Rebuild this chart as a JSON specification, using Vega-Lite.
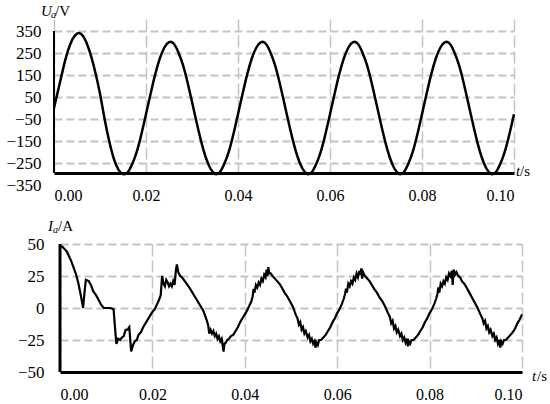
{
  "$schema": "https://vega.github.io/schema/vega-lite/v6.json",
  "padding": {"left": 5, "top": 3, "right": 0, "bottom": 0},
  "spacing": 15,
  "config": {
    "view": {"stroke": null},
    "font": "Liberation Serif",
    "style": {"guide-label": {"font": "Liberation Serif"}},
    "axis": {
      "labelFont": "Liberation Serif",
      "labelFontSize": 16,
      "labelColor": "#000",
      "ticks": false,
      "domainColor": "#000",
      "gridColor": "#c4c4c4",
      "gridWidth": 2,
      "title": null
    }
  },
  "datasets": {
    "one": [{"k": 1}],
    "voltage": [
      {"t":0.000,"v":0},{"t":0.001,"v":90},{"t":0.002,"v":180},{"t":0.003,"v":258},{"t":0.004,"v":312},{"t":0.005,"v":338},{"t":0.006,"v":335},{"t":0.007,"v":300},{"t":0.008,"v":240},{"t":0.009,"v":160},
      {"t":0.010,"v":65},{"t":0.011,"v":-50},{"t":0.012,"v":-150},{"t":0.013,"v":-230},{"t":0.014,"v":-280},{"t":0.015,"v":-300},{"t":0.016,"v":-293},{"t":0.017,"v":-255},{"t":0.018,"v":-198},{"t":0.019,"v":-119},
      {"t":0.020,"v":-28},{"t":0.021,"v":65},{"t":0.022,"v":153},{"t":0.023,"v":225},{"t":0.024,"v":275},{"t":0.025,"v":299},{"t":0.026,"v":293},{"t":0.027,"v":255},{"t":0.028,"v":198},{"t":0.029,"v":119},
      {"t":0.030,"v":28},{"t":0.031,"v":-65},{"t":0.032,"v":-153},{"t":0.033,"v":-225},{"t":0.034,"v":-275},{"t":0.035,"v":-299},{"t":0.036,"v":-293},{"t":0.037,"v":-255},{"t":0.038,"v":-198},{"t":0.039,"v":-119},
      {"t":0.040,"v":-28},{"t":0.041,"v":65},{"t":0.042,"v":153},{"t":0.043,"v":225},{"t":0.044,"v":275},{"t":0.045,"v":299},{"t":0.046,"v":293},{"t":0.047,"v":255},{"t":0.048,"v":198},{"t":0.049,"v":119},
      {"t":0.050,"v":28},{"t":0.051,"v":-65},{"t":0.052,"v":-153},{"t":0.053,"v":-225},{"t":0.054,"v":-275},{"t":0.055,"v":-299},{"t":0.056,"v":-293},{"t":0.057,"v":-255},{"t":0.058,"v":-198},{"t":0.059,"v":-119},
      {"t":0.060,"v":-28},{"t":0.061,"v":65},{"t":0.062,"v":153},{"t":0.063,"v":225},{"t":0.064,"v":275},{"t":0.065,"v":299},{"t":0.066,"v":293},{"t":0.067,"v":255},{"t":0.068,"v":198},{"t":0.069,"v":119},
      {"t":0.070,"v":28},{"t":0.071,"v":-65},{"t":0.072,"v":-153},{"t":0.073,"v":-225},{"t":0.074,"v":-275},{"t":0.075,"v":-299},{"t":0.076,"v":-293},{"t":0.077,"v":-255},{"t":0.078,"v":-198},{"t":0.079,"v":-119},
      {"t":0.080,"v":-28},{"t":0.081,"v":65},{"t":0.082,"v":153},{"t":0.083,"v":225},{"t":0.084,"v":275},{"t":0.085,"v":299},{"t":0.086,"v":293},{"t":0.087,"v":255},{"t":0.088,"v":198},{"t":0.089,"v":119},
      {"t":0.090,"v":28},{"t":0.091,"v":-65},{"t":0.092,"v":-153},{"t":0.093,"v":-225},{"t":0.094,"v":-275},{"t":0.095,"v":-299},{"t":0.096,"v":-293},{"t":0.097,"v":-255},{"t":0.098,"v":-198},{"t":0.099,"v":-119},
      {"t":0.100,"v":-28}
    ],
    "current": [
      {"t":0.0000,"i":48},{"t":0.0005,"i":48},{"t":0.0010,"i":46},{"t":0.0015,"i":44},{"t":0.0020,"i":40},{"t":0.0025,"i":36},{"t":0.0030,"i":31},{"t":0.0035,"i":26},{"t":0.0040,"i":19},{"t":0.0045,"i":10},
      {"t":0.0050,"i":0},{"t":0.0053,"i":12},{"t":0.0056,"i":22},{"t":0.0062,"i":21},{"t":0.0067,"i":18},{"t":0.0072,"i":13},{"t":0.0078,"i":10},{"t":0.0084,"i":6},{"t":0.0090,"i":2},{"t":0.0095,"i":0},
      {"t":0.0100,"i":0},{"t":0.0110,"i":0},{"t":0.0116,"i":-1},{"t":0.0119,"i":-15},{"t":0.0122,"i":-28},{"t":0.0126,"i":-24},{"t":0.0130,"i":-25},{"t":0.0134,"i":-23},{"t":0.0138,"i":-22},{"t":0.0142,"i":-17},
      {"t":0.0146,"i":-17},{"t":0.0150,"i":-15},{"t":0.0154,"i":-34},{"t":0.0158,"i":-29},{"t":0.0162,"i":-26},{"t":0.0166,"i":-25},{"t":0.0170,"i":-21},{"t":0.0175,"i":-19},{"t":0.0180,"i":-15},{"t":0.0185,"i":-12},
      {"t":0.0190,"i":-9},{"t":0.0195,"i":-6},{"t":0.0200,"i":-3},{"t":0.0205,"i":-1},{"t":0.0210,"i":3},{"t":0.0214,"i":6},{"t":0.0218,"i":10},{"t":0.0221,"i":25},{"t":0.0224,"i":19},{"t":0.0227,"i":17},
      {"t":0.0230,"i":22},{"t":0.0233,"i":20},{"t":0.0236,"i":17},{"t":0.0239,"i":19},{"t":0.0242,"i":17},{"t":0.0245,"i":21},{"t":0.0248,"i":18},{"t":0.0251,"i":30},{"t":0.0253,"i":34},{"t":0.0256,"i":28},
      {"t":0.0260,"i":25},{"t":0.0264,"i":24},{"t":0.0268,"i":22},{"t":0.0272,"i":20},{"t":0.0276,"i":18},{"t":0.0280,"i":16},{"t":0.0285,"i":13},{"t":0.0290,"i":10},{"t":0.0295,"i":7},{"t":0.0300,"i":4},
      {"t":0.0305,"i":1},{"t":0.0310,"i":-2},{"t":0.0314,"i":-6},{"t":0.0318,"i":-10},{"t":0.0321,"i":-14},{"t":0.0323,"i":-20},{"t":0.0326,"i":-17},{"t":0.0329,"i":-20},{"t":0.0332,"i":-18},{"t":0.0335,"i":-22},
      {"t":0.0338,"i":-20},{"t":0.0341,"i":-24},{"t":0.0344,"i":-22},{"t":0.0347,"i":-26},{"t":0.0350,"i":-24},{"t":0.0352,"i":-29},{"t":0.0354,"i":-34},{"t":0.0356,"i":-28},{"t":0.0359,"i":-27},{"t":0.0362,"i":-25},
      {"t":0.0366,"i":-24},{"t":0.0370,"i":-22},{"t":0.0375,"i":-21},{"t":0.0380,"i":-18},{"t":0.0385,"i":-15},{"t":0.0390,"i":-11},{"t":0.0395,"i":-8},{"t":0.0400,"i":-5},{"t":0.0405,"i":-2},{"t":0.0410,"i":2},
      {"t":0.0414,"i":5},{"t":0.0417,"i":9},{"t":0.0419,"i":15},{"t":0.0421,"i":12},{"t":0.0424,"i":18},{"t":0.0427,"i":16},{"t":0.0430,"i":20},{"t":0.0433,"i":18},{"t":0.0436,"i":23},{"t":0.0439,"i":21},
      {"t":0.0442,"i":26},{"t":0.0445,"i":24},{"t":0.0447,"i":30},{"t":0.0449,"i":25},{"t":0.0451,"i":32},{"t":0.0453,"i":27},{"t":0.0456,"i":27},{"t":0.0460,"i":25},{"t":0.0465,"i":23},{"t":0.0470,"i":21},
      {"t":0.0475,"i":19},{"t":0.0480,"i":16},{"t":0.0486,"i":12},{"t":0.0492,"i":9},{"t":0.0498,"i":5},{"t":0.0504,"i":1},{"t":0.0510,"i":-5},{"t":0.0514,"i":-8},{"t":0.0517,"i":-13},{"t":0.0520,"i":-11},
      {"t":0.0523,"i":-17},{"t":0.0526,"i":-15},{"t":0.0529,"i":-20},{"t":0.0532,"i":-18},{"t":0.0536,"i":-23},{"t":0.0539,"i":-21},{"t":0.0542,"i":-26},{"t":0.0545,"i":-24},{"t":0.0548,"i":-28},{"t":0.0551,"i":-26},
      {"t":0.0553,"i":-31},{"t":0.0555,"i":-27},{"t":0.0558,"i":-29},{"t":0.0561,"i":-25},{"t":0.0565,"i":-25},{"t":0.0570,"i":-23},{"t":0.0575,"i":-21},{"t":0.0580,"i":-18},{"t":0.0585,"i":-15},{"t":0.0590,"i":-11},
      {"t":0.0595,"i":-8},{"t":0.0600,"i":-4},{"t":0.0605,"i":-1},{"t":0.0610,"i":3},{"t":0.0614,"i":7},{"t":0.0617,"i":11},{"t":0.0619,"i":15},{"t":0.0621,"i":12},{"t":0.0624,"i":19},{"t":0.0627,"i":17},
      {"t":0.0630,"i":21},{"t":0.0633,"i":19},{"t":0.0636,"i":24},{"t":0.0639,"i":22},{"t":0.0642,"i":27},{"t":0.0645,"i":24},{"t":0.0648,"i":29},{"t":0.0650,"i":26},{"t":0.0652,"i":31},{"t":0.0654,"i":23},
      {"t":0.0656,"i":28},{"t":0.0660,"i":25},{"t":0.0665,"i":23},{"t":0.0670,"i":21},{"t":0.0675,"i":18},{"t":0.0680,"i":15},{"t":0.0686,"i":12},{"t":0.0692,"i":8},{"t":0.0698,"i":5},{"t":0.0704,"i":1},
      {"t":0.0710,"i":-4},{"t":0.0714,"i":-7},{"t":0.0717,"i":-12},{"t":0.0720,"i":-10},{"t":0.0723,"i":-16},{"t":0.0726,"i":-14},{"t":0.0729,"i":-19},{"t":0.0732,"i":-17},{"t":0.0736,"i":-22},{"t":0.0739,"i":-20},
      {"t":0.0742,"i":-25},{"t":0.0745,"i":-23},{"t":0.0748,"i":-27},{"t":0.0751,"i":-24},{"t":0.0753,"i":-30},{"t":0.0755,"i":-26},{"t":0.0758,"i":-28},{"t":0.0761,"i":-25},{"t":0.0765,"i":-25},{"t":0.0770,"i":-23},
      {"t":0.0775,"i":-21},{"t":0.0780,"i":-18},{"t":0.0785,"i":-15},{"t":0.0790,"i":-11},{"t":0.0795,"i":-8},{"t":0.0800,"i":-4},{"t":0.0805,"i":-1},{"t":0.0810,"i":3},{"t":0.0814,"i":7},{"t":0.0817,"i":11},
      {"t":0.0819,"i":16},{"t":0.0821,"i":12},{"t":0.0824,"i":19},{"t":0.0827,"i":17},{"t":0.0830,"i":21},{"t":0.0833,"i":19},{"t":0.0836,"i":24},{"t":0.0839,"i":22},{"t":0.0842,"i":27},{"t":0.0845,"i":25},
      {"t":0.0848,"i":29},{"t":0.0850,"i":18},{"t":0.0852,"i":30},{"t":0.0855,"i":26},{"t":0.0858,"i":28},{"t":0.0862,"i":25},{"t":0.0866,"i":24},{"t":0.0870,"i":21},{"t":0.0875,"i":19},{"t":0.0880,"i":16},
      {"t":0.0886,"i":12},{"t":0.0892,"i":8},{"t":0.0898,"i":4},{"t":0.0904,"i":0},{"t":0.0910,"i":-5},{"t":0.0914,"i":-8},{"t":0.0917,"i":-12},{"t":0.0920,"i":-10},{"t":0.0923,"i":-16},{"t":0.0926,"i":-14},
      {"t":0.0929,"i":-19},{"t":0.0932,"i":-17},{"t":0.0936,"i":-22},{"t":0.0939,"i":-20},{"t":0.0942,"i":-25},{"t":0.0945,"i":-23},{"t":0.0948,"i":-28},{"t":0.0951,"i":-25},{"t":0.0953,"i":-31},{"t":0.0955,"i":-26},
      {"t":0.0958,"i":-28},{"t":0.0961,"i":-25},{"t":0.0965,"i":-25},{"t":0.0970,"i":-23},{"t":0.0975,"i":-21},{"t":0.0980,"i":-19},{"t":0.0985,"i":-16},{"t":0.0990,"i":-12},{"t":0.0995,"i":-9},{"t":0.1000,"i":-5}
    ]
  },
  "vconcat": [
    {
      "width": 460,
      "height": 142,
      "encoding": {
        "x": {"type": "quantitative", "scale": {"domain": [0, 0.1], "nice": false},
          "axis": {"values": [0, 0.02, 0.04, 0.06, 0.08, 0.1], "format": ".2f", "labelFont": "Liberation Serif", "domainWidth": 3, "labelPadding": 14,
            "gridDash": [12, 4], "gridWidth": 1.5}},
        "y": {"type": "quantitative", "scale": {"domain": [-350, 350], "range": [154, 0], "nice": false},
          "axis": {"values": [-350, -250, -150, -50, 50, 150, 250, 350], "labelFont": "Liberation Serif", "domain": false, "labelPadding": 13, "labelFontSize": 17,
            "gridDash": [8, 4], "gridOpacity": {"condition": {"test": "datum.value === -350", "value": 0}, "value": 1}}}
      },
      "layer": [
        {"data": {"name": "voltage"}, "mark": {"type": "line", "color": "#000", "strokeWidth": 2.5, "interpolate": "natural"},
          "encoding": {"x": {"field": "t", "type": "quantitative"}, "y": {"field": "v", "type": "quantitative"}}},
        {"data": {"name": "one"}, "mark": {"type": "rule", "color": "#000", "strokeWidth": 2},
          "encoding": {"x": {"datum": 0}, "y": {"datum": 350}, "y2": {"datum": -295.45}}},
        {"data": {"name": "one"}, "mark": {"type": "text", "text": "U", "font": "Liberation Serif", "fontStyle": "italic", "fontSize": 15, "align": "left", "baseline": "alphabetic", "dx": -13, "dy": -15.5, "color": "#000"},
          "encoding": {"x": {"datum": 0}, "y": {"datum": 350}}},
        {"data": {"name": "one"}, "mark": {"type": "text", "text": "a", "font": "Liberation Serif", "fontStyle": "italic", "fontSize": 10, "align": "left", "baseline": "alphabetic", "dx": -3, "dy": -13, "color": "#000"},
          "encoding": {"x": {"datum": 0}, "y": {"datum": 350}}},
        {"data": {"name": "one"}, "mark": {"type": "text", "text": "/V", "font": "Liberation Serif", "fontSize": 15, "align": "left", "baseline": "alphabetic", "dx": 1, "dy": -15.5, "color": "#000"},
          "encoding": {"x": {"datum": 0}, "y": {"datum": 350}}},
        {"data": {"name": "one"}, "mark": {"type": "text", "text": "t", "font": "Liberation Serif", "fontStyle": "italic", "fontSize": 15, "align": "left", "baseline": "alphabetic", "dx": 2, "dy": 3, "color": "#000"},
          "encoding": {"x": {"datum": 0.1}, "y": {"datum": -295.45}}},
        {"data": {"name": "one"}, "mark": {"type": "text", "text": "/s", "font": "Liberation Serif", "fontSize": 15, "align": "left", "baseline": "alphabetic", "dx": 6, "dy": 3, "color": "#000"},
          "encoding": {"x": {"datum": 0.1}, "y": {"datum": -295.45}}}
      ]
    },
    {
      "width": 468,
      "height": 128,
      "encoding": {
        "x": {"type": "quantitative", "scale": {"domain": [0, 0.1], "range": [6, 468], "nice": false},
          "axis": {"values": [0, 0.02, 0.04, 0.06, 0.08, 0.1], "format": ".2f", "labelFont": "Liberation Serif", "domainWidth": 3, "labelPadding": 14,
            "gridDash": [12, 4], "gridWidth": 1.5}},
        "y": {"type": "quantitative", "scale": {"domain": [-50, 50], "nice": false},
          "axis": {"values": [-50, -25, 0, 25, 50], "labelFont": "Liberation Serif", "domain": false, "labelPadding": 10, "labelFontSize": 17, "gridDash": [8, 4]}}
      },
      "layer": [
        {"data": {"name": "current"}, "mark": {"type": "line", "color": "#000", "strokeWidth": 2.2},
          "encoding": {"x": {"field": "t", "type": "quantitative"}, "y": {"field": "i", "type": "quantitative"}}},
        {"data": {"name": "one"}, "mark": {"type": "rule", "color": "#000", "strokeWidth": 3},
          "encoding": {"x": {"datum": 0}, "y": {"datum": 50}, "y2": {"datum": -50}}},
        {"data": {"name": "one"}, "mark": {"type": "text", "text": "I", "font": "Liberation Serif", "fontStyle": "italic", "fontSize": 15, "align": "left", "baseline": "alphabetic", "dx": -12, "dy": -13.5, "color": "#000"},
          "encoding": {"x": {"datum": 0}, "y": {"datum": 50}}},
        {"data": {"name": "one"}, "mark": {"type": "text", "text": "a", "font": "Liberation Serif", "fontStyle": "italic", "fontSize": 10, "align": "left", "baseline": "alphabetic", "dx": -7, "dy": -11, "color": "#000"},
          "encoding": {"x": {"datum": 0}, "y": {"datum": 50}}},
        {"data": {"name": "one"}, "mark": {"type": "text", "text": "/A", "font": "Liberation Serif", "fontSize": 15, "align": "left", "baseline": "alphabetic", "dx": -2, "dy": -13.5, "color": "#000"},
          "encoding": {"x": {"datum": 0}, "y": {"datum": 50}}},
        {"data": {"name": "one"}, "mark": {"type": "text", "text": "t", "font": "Liberation Serif", "fontStyle": "italic", "fontSize": 15, "align": "left", "baseline": "alphabetic", "dx": 10, "dy": 8.7, "color": "#000"},
          "encoding": {"x": {"datum": 0.1}, "y": {"datum": -50}}},
        {"data": {"name": "one"}, "mark": {"type": "text", "text": "/s", "font": "Liberation Serif", "fontSize": 15, "align": "left", "baseline": "alphabetic", "dx": 15, "dy": 8.7, "color": "#000"},
          "encoding": {"x": {"datum": 0.1}, "y": {"datum": -50}}}
      ]
    }
  ]
}
